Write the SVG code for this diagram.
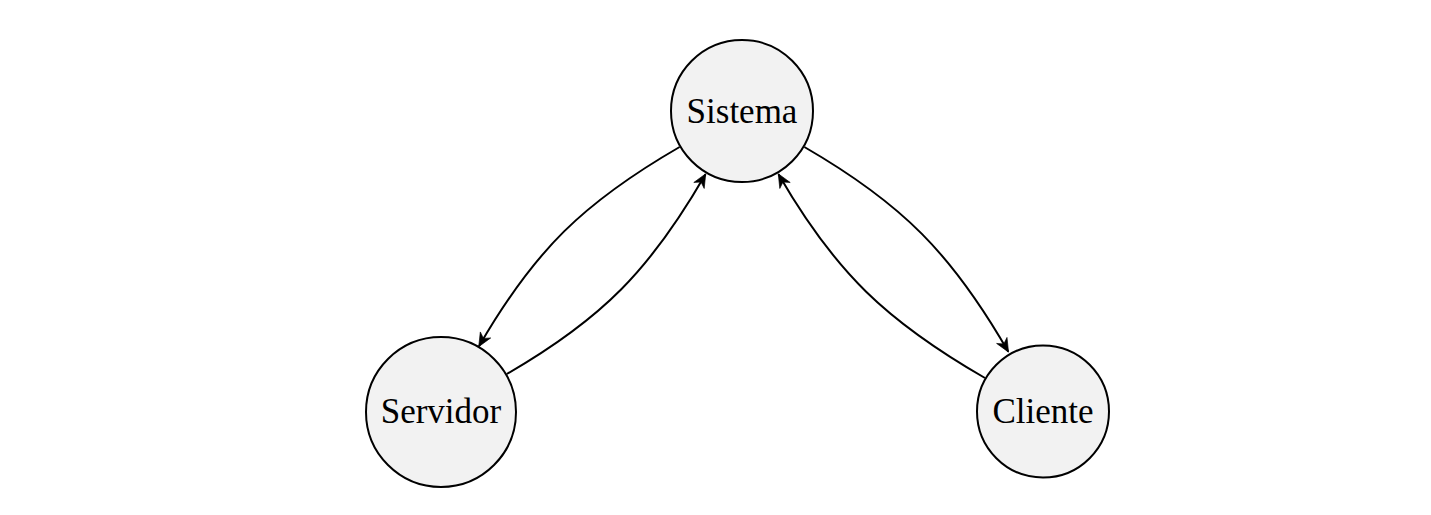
<svg xmlns="http://www.w3.org/2000/svg" width="1431" height="515" viewBox="0 0 1431 515">
<style>
.node circle { fill: #f2f2f2; stroke: #000; stroke-width: 2; }
.node text { font-family: "Liberation Serif", "DejaVu Serif", serif; font-size: 35px; fill: #000; text-anchor: middle; }
.edge { fill: none; stroke: #000; stroke-width: 2; marker-end: url(#arr); }
</style>
<defs>
<marker id="arr" markerUnits="userSpaceOnUse" viewBox="-16 -8 17 16" refX="0" refY="0" markerWidth="17" markerHeight="16" orient="auto">
<path d="M0.5,0 L-13,-6 L-9,0 L-13,6 Z" fill="#000" stroke="#000" stroke-width="0.6" stroke-linejoin="round"/>
</marker>
</defs>
<rect width="1431" height="515" fill="#fff"/>
<g id="connectors">
<path class="edge" d="M679.6,147 C583.7,202.4 534.4,250.3 479,346.2"/>
<path class="edge" d="M506.8,374 C602.3,318.9 650.4,269.7 705.5,174.2"/>
<path class="edge" d="M804.4,147 C902.3,203.6 951.8,253.8 1008.3,351.7"/>
<path class="edge" d="M985,378 C886.6,321.2 835.3,272.6 778.5,174.2"/>
</g>
<g id="sistema" class="node">
<circle cx="742" cy="111" r="71"/>
<text x="742" y="123">Sistema</text>
</g>
<g id="servidor" class="node">
<circle cx="441" cy="412" r="75"/>
<text x="441" y="423">Servidor</text>
</g>
<g id="cliente" class="node">
<circle cx="1043" cy="411.5" r="66"/>
<text x="1043" y="423">Cliente</text>
</g>
</svg>
